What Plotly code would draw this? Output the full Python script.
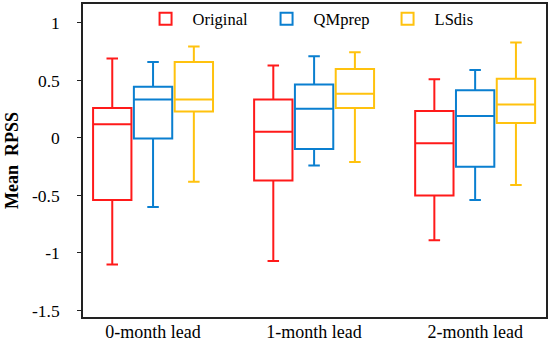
import plotly.graph_objects as go

categories = ["0-month lead", "1-month lead", "2-month lead"]
series_names = ["Original", "QMprep", "LSdis"]
colors = ["#FF1A1A", "#0A7FD0", "#FFC20E"]

# per series: values for each category
lower = {
    "Original": [-1.10, -1.07, -0.89],
    "QMprep":   [-0.60, -0.24, -0.54],
    "LSdis":    [-0.38, -0.21, -0.41],
}
q1 = {
    "Original": [-0.54, -0.37, -0.50],
    "QMprep":   [-0.005, -0.095, -0.25],
    "LSdis":    [0.23, 0.26, 0.13],
}
median = {
    "Original": [0.12, 0.055, -0.045],
    "QMprep":   [0.335, 0.255, 0.19],
    "LSdis":    [0.335, 0.385, 0.29],
}
q3 = {
    "Original": [0.26, 0.335, 0.235],
    "QMprep":   [0.445, 0.465, 0.415],
    "LSdis":    [0.66, 0.60, 0.515],
}
upper = {
    "Original": [0.69, 0.63, 0.51],
    "QMprep":   [0.66, 0.71, 0.59],
    "LSdis":    [0.795, 0.745, 0.83],
}

y_ticks = [1, 0.5, 0, -0.5, -1, -1.5]
y_tick_labels = ["1", "0.5", "0", "-0.5", "-1", "-1.5"]

font_family = "Liberation Serif, Times New Roman, serif"

fig = go.Figure()
for name, col in zip(series_names, colors):
    fig.add_trace(go.Box(
        name=name,
        x=categories,
        q1=q1[name], median=median[name], q3=q3[name],
        lowerfence=lower[name], upperfence=upper[name],
        line=dict(color=col, width=2),
        fillcolor="rgba(0,0,0,0)",
        whiskerwidth=0.3,
        boxpoints=False,
        hoverinfo="skip",
    ))

fig.update_layout(
    width=550, height=342,
    margin=dict(l=83, r=4, t=4, b=25, autoexpand=False),
    paper_bgcolor="white", plot_bgcolor="white",
    boxmode="group", boxgap=0.24, boxgroupgap=0.06,
    font=dict(family=font_family, size=17, color="black"),
    showlegend=True,
    legend=dict(
        orientation="h", x=0.12, y=0.952, xanchor="left", yanchor="middle",
        bgcolor="rgba(0,0,0,0)", itemwidth=44, entrywidth=62,
        font=dict(family=font_family, size=16.5, color="black"),
        traceorder="normal",
    ),
)
fig.update_xaxes(
    type="category", range=[-0.435, 2.44], automargin=False,
    showline=True, linecolor="#222", linewidth=1.5, mirror=True,
    ticks="", showgrid=False, zeroline=False,
    ticklabelstandoff=-2,
    tickfont=dict(family=font_family, size=18, color="black"),
)
fig.update_yaxes(
    range=[-1.557, 1.165], automargin=False,
    tickvals=y_ticks, ticktext=y_tick_labels,
    ticks="outside", ticklen=4, tickwidth=1.2, tickcolor="#222",
    ticklabelstandoff=14,
    showline=True, linecolor="#222", linewidth=1.5, mirror=True,
    showgrid=False, zeroline=False,
    tickfont=dict(family=font_family, size=17.5, color="black"),
    title=dict(text="<b>Mean  RPSS</b>", standoff=9,
               font=dict(family=font_family, size=18, color="black")),
)

fig.write_html("out.html",
               config={"displayModeBar": False},
               post_script="document.body.style.margin='0';document.body.style.overflow='hidden';")
